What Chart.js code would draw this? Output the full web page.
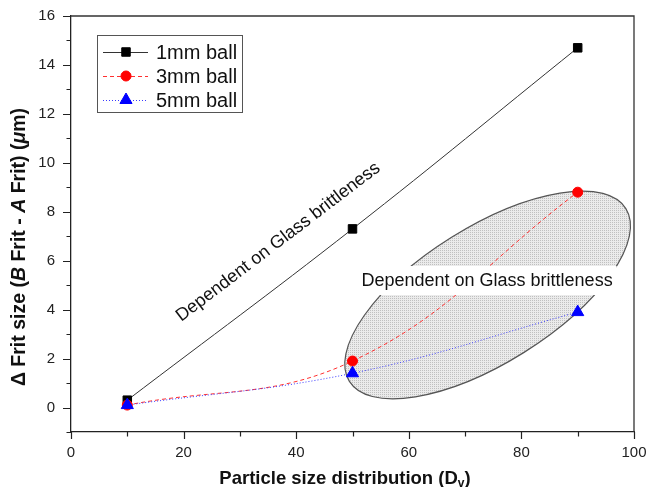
<!DOCTYPE html>
<html>
<head>
<meta charset="utf-8">
<script src="https://cdn.jsdelivr.net/npm/chart.js@4.4.1/dist/chart.umd.min.js"></script>
<style>
  html, body { margin: 0; padding: 0; background: #fff; }
  #wrap { width: 648px; height: 487px; position: relative; }
</style>
</head>
<body>
<div id="wrap"><canvas id="c" width="648" height="487"></canvas></div>
<script>
// ---- data ----
const particleSize = [10, 50, 90];
const ball1mm = [0.3, 7.3, 14.7];
const ball3mm = [0.1, 1.9, 8.8];
const ball5mm = [0.1, 1.4, 3.9];
const seriesLabels = ['1mm ball', '3mm ball', '5mm ball'];
const xTickLabels = [0, 20, 40, 60, 80, 100];
const yTickLabels = [0, 2, 4, 6, 8, 10, 12, 14, 16];
const xTitle = 'Particle size distribution (D';
const xTitleSub = 'v';
const annotationText = 'Dependent on Glass brittleness';

const FONT = '"Liberation Sans", Arial, Helvetica, sans-serif';

function pts(ys) { return particleSize.map((x, i) => ({ x: x, y: ys[i] })); }

// stipple pattern for ellipse fill
function makePattern(ctx) {
  const pc = document.createElement('canvas');
  pc.width = 2; pc.height = 2;
  const p = pc.getContext('2d');
  p.fillStyle = '#ebebeb'; p.fillRect(0, 0, 2, 2);
  p.fillStyle = '#c0c0c0'; p.fillRect(0, 0, 1, 1);
  return ctx.createPattern(pc, 'repeat');
}

const decor = {
  id: 'decor',
  beforeDatasetsDraw(chart) {
    const { ctx, scales: { x, y } } = chart;
    // shaded ellipse
    const cx = x.getPixelForValue(74), cy = y.getPixelForValue(4.6);
    ctx.save();
    ctx.beginPath();
    ctx.ellipse(cx, cy, 163, 68, -32 * Math.PI / 180, 0, Math.PI * 2);
    ctx.fillStyle = makePattern(ctx);
    ctx.fill();
    ctx.lineWidth = 1.2;
    ctx.strokeStyle = '#555';
    ctx.stroke();
    ctx.restore();
  },
  afterDatasetsDraw(chart) {
    const { ctx, scales: { x, y } } = chart;
    ctx.save();
    // horizontal annotation with white background band
    ctx.font = '18px ' + FONT;
    const tx = x.getPixelForValue(73.9), ty = y.getPixelForValue(5.17);
    const w = ctx.measureText(annotationText).width;
    ctx.fillStyle = '#fff';
    ctx.fillRect(tx - w / 2 - 4, ty - 15, w + 8, 29);
    ctx.fillStyle = '#111';
    ctx.textAlign = 'center';
    ctx.textBaseline = 'middle';
    ctx.fillText(annotationText, tx, ty);
    // rotated annotation along the 1mm line
    const p1x = x.getPixelForValue(particleSize[0]), p1y = y.getPixelForValue(ball1mm[0]);
    const p2x = x.getPixelForValue(particleSize[1]), p2y = y.getPixelForValue(ball1mm[1]);
    const ang = Math.atan2(p2y - p1y, p2x - p1x);
    ctx.translate(x.getPixelForValue(36.8), y.getPixelForValue(6.76));
    ctx.rotate(ang);
    ctx.fillText(annotationText, 0, 0);
    ctx.restore();
  },
  afterDraw(chart) {
    const { ctx, chartArea: a, scales: { x, y } } = chart;
    ctx.save();
    // frame top/right
    ctx.strokeStyle = '#333';
    ctx.lineWidth = 1.3;
    ctx.beginPath();
    ctx.moveTo(a.left, a.top); ctx.lineTo(a.right, a.top); ctx.lineTo(a.right, a.bottom);
    ctx.stroke();
    // ticks
    ctx.strokeStyle = '#222';
    ctx.lineWidth = 1.2;
    ctx.beginPath();
    for (let v = 0; v <= 100; v += 10) {
      const px = Math.round(x.getPixelForValue(v)) + 0.5;
      const len = (v % 20 === 0) ? 7 : 4.5;
      ctx.moveTo(px, a.bottom); ctx.lineTo(px, a.bottom + len);
    }
    for (let v = -1; v <= 16; v += 1) {
      const py = Math.round(y.getPixelForValue(v)) + 0.5;
      const len = (v % 2 === 0) ? 8 : 4.5;
      ctx.moveTo(a.left, py); ctx.lineTo(a.left - len, py);
    }
    ctx.stroke();

    // x axis title with subscript
    ctx.fillStyle = '#111';
    ctx.textBaseline = 'alphabetic';
    const bf = 'bold 18.5px ' + FONT, sf = 'bold 12px ' + FONT;
    ctx.font = bf; const w1 = ctx.measureText(xTitle).width;
    ctx.font = sf; const w2 = ctx.measureText(xTitleSub).width;
    ctx.font = bf; const w3 = ctx.measureText(')').width;
    let sx = 345 - (w1 + w2 + w3) / 2;
    const by = 484;
    ctx.textAlign = 'left';
    ctx.font = bf; ctx.fillText(xTitle, sx, by); sx += w1;
    ctx.font = sf; ctx.fillText(xTitleSub, sx, by + 3); sx += w2;
    ctx.font = bf; ctx.fillText(')', sx, by);

    // y axis title, mixed italic
    const segs = [
      ['\u0394 Frit size (', false], ['B', true], [' Frit - ', false], ['A', true],
      [' Frit) (', false], ['\u03bc', true], ['m)', false]
    ];
    const fN = 'bold 19.5px ' + FONT, fI = 'italic bold 19.5px ' + FONT;
    let tot = 0;
    segs.forEach(s => { ctx.font = s[1] ? fI : fN; tot += ctx.measureText(s[0]).width; });
    ctx.translate(25, 247);
    ctx.rotate(-Math.PI / 2);
    let cxp = -tot / 2;
    segs.forEach(s => { ctx.font = s[1] ? fI : fN; ctx.fillText(s[0], cxp, 0); cxp += ctx.measureText(s[0]).width; });
    ctx.setTransform(1, 0, 0, 1, 0, 0);

    // legend
    const lx = 97, ly = 35, lw = 145, lh = 77;
    ctx.fillStyle = '#fff';
    ctx.fillRect(lx, ly, lw, lh);
    ctx.strokeStyle = '#555';
    ctx.lineWidth = 1;
    ctx.strokeRect(lx + 0.5, ly + 0.5, lw, lh);
    const rows = [52, 76, 100];
    chart.data.datasets.forEach((ds, i) => {
      const ry = rows[i];
      ctx.save();
      ctx.strokeStyle = ds.borderColor;
      ctx.lineWidth = ds.borderWidth;
      ctx.setLineDash(ds.borderDash || []);
      ctx.beginPath(); ctx.moveTo(lx + 6, ry + 0.5); ctx.lineTo(lx + 51, ry + 0.5); ctx.stroke();
      ctx.setLineDash([]);
      ctx.fillStyle = ds.pointBackgroundColor;
      ctx.strokeStyle = ds.pointBorderColor;
      ctx.lineWidth = 1;
      Chart.helpers.drawPoint(ctx, {
        pointStyle: ds.pointStyle, radius: ds.pointRadius, rotation: 0, borderWidth: 1
      }, lx + 29, ry);
      ctx.restore();
      ctx.fillStyle = '#111';
      ctx.font = '20px ' + FONT;
      ctx.textAlign = 'left';
      ctx.textBaseline = 'middle';
      ctx.fillText(ds.label, lx + 59, ry + 1);
    });
    ctx.restore();
  }
};

new Chart(document.getElementById('c'), {
  type: 'line',
  data: {
    datasets: [
      {
        label: seriesLabels[0], data: pts(ball1mm),
        borderColor: '#333', borderWidth: 1, borderDash: [],
        pointStyle: 'rect', pointRadius: 6,
        pointBackgroundColor: '#000', pointBorderColor: '#000',
        tension: 0.4, order: 3
      },
      {
        label: seriesLabels[1], data: pts(ball3mm),
        borderColor: '#ff3030', borderWidth: 1, borderDash: [4, 3],
        pointStyle: 'circle', pointRadius: 5,
        pointBackgroundColor: '#ff0000', pointBorderColor: '#ff0000',
        tension: 0.4, order: 2
      },
      {
        label: seriesLabels[2], data: pts(ball5mm),
        borderColor: '#3a3aff', borderWidth: 1, borderDash: [1, 2],
        pointStyle: 'triangle', pointRadius: 7,
        pointBackgroundColor: '#0000ff', pointBorderColor: '#0000ff',
        tension: 0.4, order: 1
      }
    ]
  },
  options: {
    responsive: false,
    animation: false,
    layout: { padding: { top: 16, right: 14, left: 0, bottom: 0 } },
    plugins: { legend: { display: false }, tooltip: { enabled: false } },
    scales: {
      x: {
        type: 'linear', min: 0, max: 100,
        grid: { display: false, drawTicks: false },
        border: { display: true, color: '#222', width: 1.3 },
        ticks: {
          stepSize: 10, autoSkip: false, maxRotation: 0, padding: 12,
          color: '#222', font: { family: FONT, size: 15 },
          callback: v => xTickLabels.includes(v) ? String(v) : ''
        },
        afterFit: s => { s.height = 55; s.paddingLeft = 0; s.paddingRight = 0; }
      },
      y: {
        type: 'linear', min: -1, max: 16,
        grid: { display: false, drawTicks: false },
        border: { display: true, color: '#222', width: 1.3 },
        ticks: {
          stepSize: 1, autoSkip: false, padding: 16,
          color: '#222', font: { family: FONT, size: 15 },
          callback: v => yTickLabels.includes(v) ? String(v) : ''
        },
        afterFit: s => { s.width = 71; s.paddingTop = 0; s.paddingBottom = 0; }
      }
    }
  },
  plugins: [decor]
});
</script>
</body>
</html>
